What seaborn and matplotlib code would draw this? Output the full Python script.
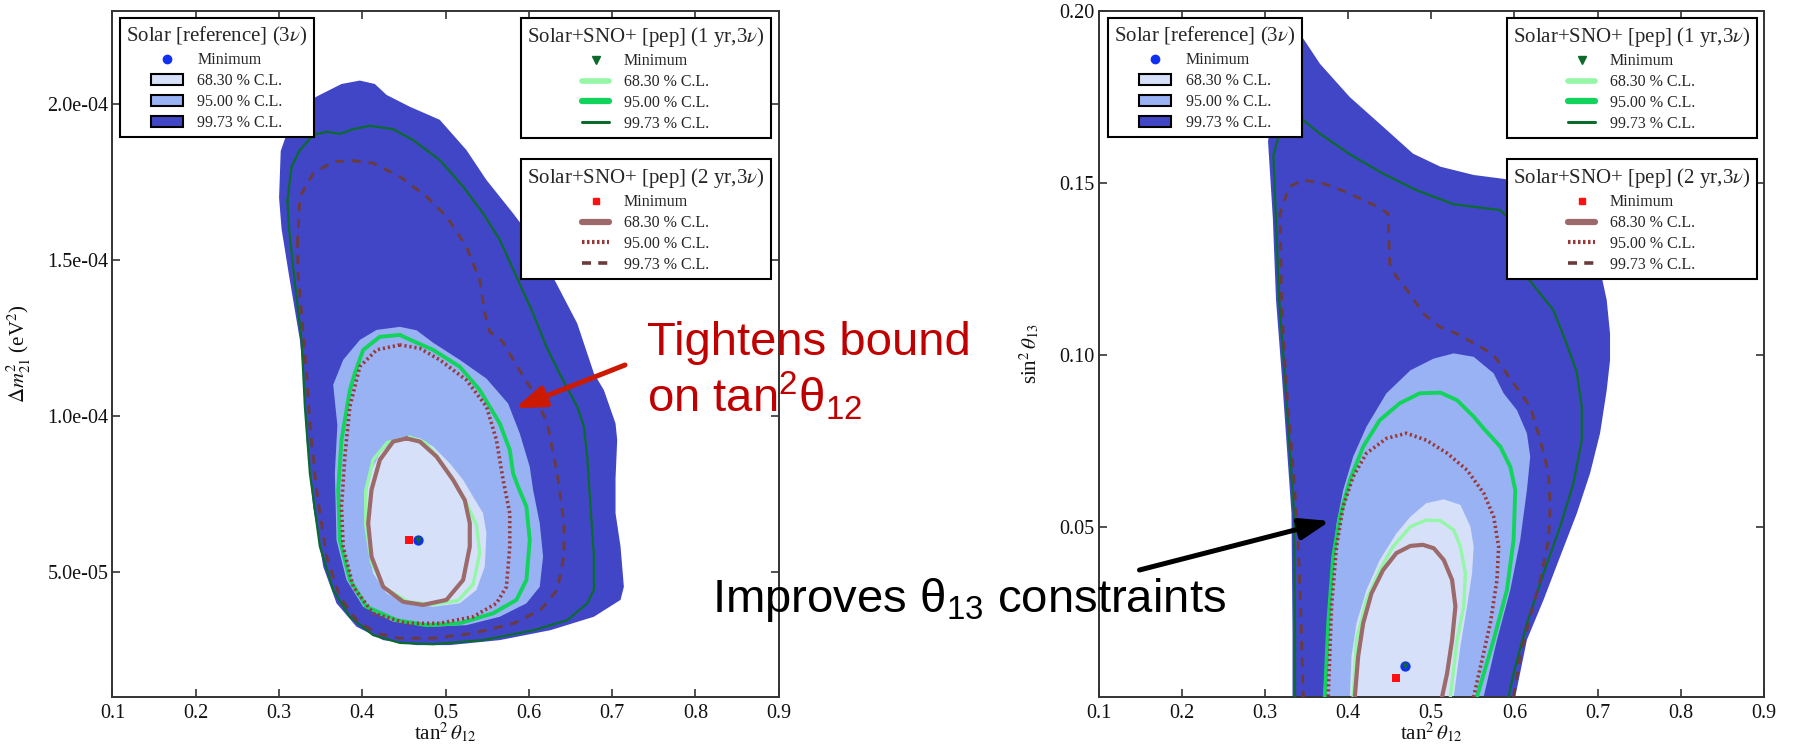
import numpy as np
import matplotlib
matplotlib.use("Agg")
import matplotlib.pyplot as plt
import seaborn as sns
from matplotlib.lines import Line2D
from matplotlib.patches import Patch

# ---------------- data ----------------
# Left panel: x = tan^2(theta12), y = Delta m^2_21 in units of 1e-4 eV^2
REF99_L_X = [0.300, 0.302, 0.315, 0.335, 0.349, 0.375, 0.397, 0.415, 0.429, 0.457, 0.493, 0.525, 0.549, 0.581,
             0.605, 0.633, 0.658, 0.678, 0.690, 0.704, 0.706, 0.704, 0.704, 0.710, 0.714, 0.710, 0.678, 0.626,
             0.565, 0.505, 0.465, 0.425, 0.393, 0.369, 0.353, 0.341, 0.333, 0.329, 0.325, 0.312, 0.303]
REF99_L_Y = [1.70, 1.85, 1.95, 2.01, 2.03, 2.065, 2.076, 2.065, 2.03, 1.992, 1.95, 1.853, 1.757, 1.65,
             1.565, 1.425, 1.297, 1.137, 1.083, 0.976, 0.923, 0.80, 0.688, 0.581, 0.452, 0.410, 0.356, 0.313,
             0.281, 0.265, 0.265, 0.281, 0.324, 0.399, 0.517, 0.709, 0.923, 1.137, 1.244, 1.45, 1.60]
REF95_L_X = [0.365, 0.377, 0.397, 0.417, 0.445, 0.465, 0.485, 0.517, 0.549, 0.575, 0.589, 0.601, 0.605, 0.613,
             0.617, 0.613, 0.597, 0.565, 0.525, 0.485, 0.437, 0.401, 0.381, 0.369, 0.367, 0.370]
REF95_L_Y = [1.10, 1.18, 1.244, 1.276, 1.286, 1.275, 1.235, 1.18, 1.12, 1.04, 0.944, 0.837, 0.763, 0.656,
             0.549, 0.452, 0.399, 0.356, 0.329, 0.324, 0.340, 0.388, 0.474, 0.602, 0.816, 0.97]
REF68_L_X = [0.457, 0.437, 0.421, 0.409, 0.403, 0.405, 0.413, 0.429, 0.453, 0.485, 0.517, 0.537, 0.547, 0.549,
             0.545, 0.533, 0.521, 0.505, 0.485, 0.469]
REF68_L_Y = [0.934, 0.923, 0.880, 0.816, 0.709, 0.602, 0.495, 0.431, 0.399, 0.388, 0.399, 0.442, 0.517, 0.624,
             0.688, 0.741, 0.795, 0.848, 0.902, 0.929]
Y1_99_L_X = [0.310, 0.315, 0.325, 0.341, 0.357, 0.373, 0.389, 0.409, 0.437, 0.461, 0.493, 0.521, 0.545, 0.565,
             0.585, 0.605, 0.621, 0.638, 0.658, 0.666, 0.670, 0.674, 0.678, 0.678, 0.670, 0.646, 0.606, 0.545,
             0.485, 0.445, 0.413, 0.385, 0.365, 0.349, 0.337, 0.331, 0.327, 0.318, 0.312]
Y1_99_L_Y = [1.69, 1.80, 1.853, 1.901, 1.912, 1.905, 1.920, 1.931, 1.920, 1.885, 1.821, 1.736, 1.650, 1.565,
             1.447, 1.329, 1.222, 1.13, 1.030, 0.966, 0.870, 0.709, 0.549, 0.442, 0.399, 0.345, 0.313, 0.281,
             0.268, 0.272, 0.297, 0.356, 0.442, 0.581, 0.816, 1.030, 1.244, 1.45, 1.60]
Y1_95_L_X = [0.445, 0.421, 0.401, 0.391, 0.385, 0.375, 0.371, 0.373, 0.385, 0.405, 0.441, 0.477, 0.517, 0.557,
             0.585, 0.597, 0.601, 0.597, 0.587, 0.581, 0.577, 0.565, 0.541, 0.517, 0.485, 0.457]
Y1_95_L_Y = [1.260, 1.254, 1.212, 1.137, 1.083, 0.923, 0.763, 0.602, 0.474, 0.388, 0.345, 0.329, 0.335, 0.367,
             0.410, 0.474, 0.602, 0.709, 0.773, 0.816, 0.891, 0.976, 1.083, 1.158, 1.212, 1.245]
Y1_68_L_X = [0.457, 0.430, 0.413, 0.404, 0.404, 0.411, 0.426, 0.455, 0.485, 0.515, 0.533, 0.541, 0.537, 0.525,
             0.510, 0.490, 0.475]
Y1_68_L_Y = [0.932, 0.915, 0.860, 0.760, 0.650, 0.530, 0.450, 0.404, 0.395, 0.408, 0.460, 0.560, 0.650, 0.720,
             0.790, 0.870, 0.915]
Y2_99_L_X = [0.322, 0.325, 0.341, 0.365, 0.389, 0.413, 0.445, 0.477, 0.501, 0.525, 0.541, 0.547, 0.553, 0.568,
             0.586, 0.606, 0.622, 0.634, 0.642, 0.642, 0.634, 0.614, 0.582, 0.533, 0.485, 0.445, 0.417, 0.393,
             0.373, 0.357, 0.345, 0.337, 0.333, 0.328, 0.323]
Y2_99_L_Y = [1.55, 1.704, 1.778, 1.816, 1.819, 1.811, 1.768, 1.704, 1.640, 1.543, 1.436, 1.33, 1.27, 1.24,
             1.158, 1.073, 0.976, 0.816, 0.656, 0.549, 0.442, 0.378, 0.335, 0.303, 0.287, 0.287, 0.303, 0.345,
             0.420, 0.549, 0.763, 0.976, 1.137, 1.30, 1.45]
Y2_95_L_X = [0.445, 0.417, 0.397, 0.385, 0.379, 0.375, 0.377, 0.389, 0.413, 0.453, 0.493, 0.533, 0.561, 0.573,
             0.577, 0.577, 0.569, 0.561, 0.549, 0.525, 0.493, 0.469]
Y2_95_L_Y = [1.228, 1.212, 1.158, 1.030, 0.870, 0.709, 0.581, 0.452, 0.367, 0.335, 0.335, 0.356, 0.399, 0.452,
             0.581, 0.688, 0.795, 0.923, 1.030, 1.115, 1.180, 1.217]
Y2_68_L_X = [0.453, 0.437, 0.421, 0.411, 0.407, 0.411, 0.425, 0.449, 0.473, 0.501, 0.521, 0.529, 0.529, 0.523,
             0.509, 0.489, 0.469]
Y2_68_L_Y = [0.928, 0.918, 0.859, 0.763, 0.656, 0.549, 0.452, 0.404, 0.394, 0.410, 0.474, 0.581, 0.656, 0.730,
             0.795, 0.870, 0.918]
MIN_L_X = [0.467, 0.467, 0.456]     # reference, 1 yr, 2 yr
MIN_L_Y = [0.602, 0.602, 0.602]

# Right panel: x = tan^2(theta12), y = sin^2(theta13)   (open contours run below the axis)
REF99_R_X = [0.3036, 0.315, 0.330, 0.346, 0.366, 0.402, 0.442, 0.478, 0.511, 0.551, 0.583, 0.620, 0.660, 0.690,
             0.702, 0.705, 0.711, 0.715, 0.715, 0.711, 0.703, 0.691, 0.675, 0.655, 0.635, 0.615, 0.601, 0.597,
             0.333, 0.333, 0.3318, 0.3205, 0.3132, 0.3093]
REF99_R_Y = [0.162, 0.185, 0.195, 0.1919, 0.1846, 0.1749, 0.1663, 0.1585, 0.1547, 0.1523, 0.1513, 0.150, 0.146,
             0.138, 0.130, 0.1227, 0.1160, 0.1063, 0.0985, 0.0898, 0.0773, 0.0657, 0.0540, 0.0415, 0.0289,
             0.0173, 0.0008, -0.005, -0.005, 0.020, 0.054, 0.093, 0.116, 0.140]
REF95_R_X = [0.369, 0.370, 0.374, 0.380, 0.386, 0.394, 0.406, 0.422, 0.446, 0.475, 0.503, 0.527, 0.551, 0.575,
             0.587, 0.603, 0.615, 0.619, 0.615, 0.607, 0.595, 0.579, 0.563, 0.562]
REF95_R_Y = [-0.005, 0.0008, 0.0173, 0.0366, 0.0511, 0.0608, 0.0705, 0.0792, 0.0889, 0.0956, 0.0990, 0.1005,
             0.0995, 0.0947, 0.0889, 0.0840, 0.0773, 0.0705, 0.0608, 0.0463, 0.0318, 0.0173, 0.0008, -0.005]
REF68_R_X = [0.401, 0.402, 0.404, 0.410, 0.422, 0.438, 0.458, 0.475, 0.494, 0.515, 0.535, 0.547, 0.551, 0.549,
             0.543, 0.535, 0.527, 0.526]
REF68_R_Y = [-0.005, 0.0008, 0.0125, 0.0221, 0.0318, 0.0405, 0.0482, 0.0531, 0.0570, 0.0581, 0.0565, 0.0502,
             0.0444, 0.0366, 0.0270, 0.0154, 0.0008, -0.005]
Y1_99_R_X = [0.336, 0.336, 0.335, 0.324, 0.317, 0.313, 0.310, 0.318, 0.330, 0.342, 0.366, 0.402, 0.442, 0.482,
             0.527, 0.583, 0.600, 0.610, 0.615, 0.647, 0.661, 0.675, 0.681, 0.681, 0.671, 0.655, 0.635, 0.615,
             0.599, 0.593, 0.591]
Y1_99_R_Y = [-0.005, 0.020, 0.054, 0.093, 0.116, 0.140, 0.158, 0.165, 0.170, 0.1690, 0.1643, 0.1583, 0.1527,
             0.1479, 0.1438, 0.1421, 0.138, 0.128, 0.1227, 0.1130, 0.1044, 0.0950, 0.085, 0.0753, 0.0628, 0.0502,
             0.0366, 0.0221, 0.0076, 0.0008, -0.005]
Y1_95_R_X = [0.371, 0.372, 0.376, 0.382, 0.390, 0.402, 0.418, 0.438, 0.462, 0.486, 0.511, 0.531, 0.551, 0.563,
             0.583, 0.595, 0.601, 0.599, 0.591, 0.575, 0.555, 0.553]
Y1_95_R_Y = [-0.005, 0.0008, 0.0221, 0.0415, 0.0531, 0.0637, 0.0734, 0.0811, 0.0860, 0.0889, 0.0891, 0.0869,
             0.0821, 0.0787, 0.0734, 0.0676, 0.0608, 0.0463, 0.0318, 0.0173, 0.0008, -0.005]
Y1_68_R_X = [0.405, 0.406, 0.410, 0.422, 0.438, 0.454, 0.475, 0.494, 0.511, 0.527, 0.535, 0.541, 0.539, 0.531,
             0.523, 0.522]
Y1_68_R_Y = [-0.005, 0.0008, 0.0173, 0.0289, 0.0376, 0.0444, 0.0502, 0.0521, 0.0519, 0.0492, 0.0444, 0.0366,
             0.0270, 0.0173, 0.0008, -0.005]
Y2_99_R_X = [0.346, 0.346, 0.343, 0.340, 0.335, 0.325, 0.320, 0.318, 0.329, 0.346, 0.368, 0.397, 0.436, 0.448,
             0.450, 0.458, 0.474, 0.490, 0.510, 0.530, 0.559, 0.575, 0.599, 0.619, 0.631, 0.641, 0.643, 0.641,
             0.631, 0.619, 0.607, 0.599, 0.597]
Y2_99_R_Y = [-0.005, 0.0009, 0.025, 0.0444, 0.0637, 0.0928, 0.115, 0.1411, 0.1489, 0.1508, 0.1500, 0.1474, 0.1430,
             0.1411, 0.1266, 0.1227, 0.1179, 0.1121, 0.1082, 0.1063, 0.1024, 0.1000, 0.0918, 0.0850, 0.0753,
             0.0657, 0.0560, 0.0463, 0.0347, 0.0241, 0.0125, 0.0008, -0.005]
Y2_95_R_X = [0.375, 0.376, 0.380, 0.386, 0.394, 0.406, 0.422, 0.446, 0.470, 0.494, 0.519, 0.543, 0.563, 0.575,
             0.581, 0.579, 0.571, 0.561, 0.551, 0.549]
Y2_95_R_Y = [-0.005, 0.0008, 0.0270, 0.0444, 0.0560, 0.0647, 0.0715, 0.0758, 0.0773, 0.0753, 0.0715, 0.0666,
             0.0599, 0.0531, 0.0444, 0.0347, 0.0221, 0.0115, 0.0008, -0.005]
Y2_68_R_X = [0.407, 0.408, 0.412, 0.418, 0.428, 0.442, 0.458, 0.475, 0.490, 0.503, 0.515, 0.525, 0.529, 0.525,
             0.519, 0.513, 0.512]
Y2_68_R_Y = [-0.005, 0.0008, 0.0125, 0.0221, 0.0308, 0.0376, 0.0425, 0.0446, 0.0449, 0.0439, 0.0405, 0.0347,
             0.0270, 0.0173, 0.0076, 0.0008, -0.005]
MIN_R_X = [0.468, 0.468, 0.458]
MIN_R_Y = [0.0098, 0.0098, 0.0062]

# ticks / labels / texts
XTICKS = [0.1, 0.2, 0.3, 0.4, 0.5, 0.6, 0.7, 0.8, 0.9]
XTICKLABELS = ["0.1", "0.2", "0.3", "0.4", "0.5", "0.6", "0.7", "0.8", "0.9"]
YTICKS_L = [0.5e-4, 1.0e-4, 1.5e-4, 2.0e-4]
YTICKLABELS_L = ["5.0e-05", "1.0e-04", "1.5e-04", "2.0e-04"]
YTICKS_R = [0.05, 0.10, 0.15, 0.20]
YTICKLABELS_R = ["0.05", "0.10", "0.15", "0.20"]
DM_UNIT = 1e-4
LEG_TITLES = ["Solar [reference] (3$\\nu$)", "Solar+SNO+ [pep] (1 yr,3$\\nu$)", "Solar+SNO+ [pep] (2 yr,3$\\nu$)"]
LEG_LABELS = ["Minimum", "68.30 % C.L.", "95.00 % C.L.", "99.73 % C.L."]

# ---------------- styles ----------------
DARK, MED, LIGHT = "#4146C6", "#98B2F3", "#D6E1F9"
LGREEN, GREEN, DGREEN = "#93F7A6", "#12D45A", "#0B6B2C"
BROWN, DOTC, DASHC = "#9C6A6A", "#9A3838", "#6B3B3B"
MIN_COLORS = ["#1030F0", "#0B6B2C", "#FF1010"]

sns.set_theme(style="ticks")
plt.rcParams["font.family"] = ["Liberation Serif", "DejaVu Serif"]
plt.rcParams["mathtext.fontset"] = "stix"
plt.rcParams["mathtext.rm"] = "Liberation Sans"
plt.rcParams["mathtext.it"] = "Liberation Sans"
plt.rcParams["mathtext.bf"] = "Liberation Sans:bold"
plt.rcParams["mathtext.sf"] = "Liberation Sans"
plt.rcParams["axes.edgecolor"] = "#333333"
plt.rcParams["axes.linewidth"] = 1.4

fig = plt.figure(figsize=(17.93, 7.47), dpi=100)
axL = fig.add_axes([0.06274, 0.06734, 0.3716, 0.9183])
axR = fig.add_axes([0.61283, 0.06734, 0.37089, 0.9183])


def close(xs, ys):
    return np.r_[xs, xs[0]], np.r_[ys, ys[0]]


def draw_panel(ax, s, fills, lines, closed, mins_x, mins_y):
    for xs, ys, c in fills:
        ax.fill(np.asarray(xs), np.asarray(ys) * s, color=c, lw=0, zorder=1)
    for xs, ys, c, lw, ls, z in lines:
        x = np.asarray(xs, float)
        y = np.asarray(ys, float) * s
        if closed:
            x, y = close(x, y)
        sns.lineplot(x=x, y=y, sort=False, estimator=None, ax=ax, color=c, linewidth=lw,
                     linestyle=ls, legend=False, zorder=z)
    mx = np.asarray(mins_x)
    my = np.asarray(mins_y) * s
    sns.scatterplot(x=mx[:1], y=my[:1], ax=ax, marker="o", s=55, color=MIN_COLORS[0], linewidth=0,
                    zorder=6, legend=False)
    sns.scatterplot(x=mx[1:2], y=my[1:2], ax=ax, marker="v", s=22, color=MIN_COLORS[1], linewidth=0,
                    zorder=7, legend=False)
    sns.scatterplot(x=mx[2:], y=my[2:], ax=ax, marker="s", s=30, color=MIN_COLORS[2], linewidth=0,
                    zorder=7, legend=False)


DOTTED = (0, (0.6, 0.8))
DASHED = (0, (3.2, 2.8))

draw_panel(axL, DM_UNIT,
           [(REF99_L_X, REF99_L_Y, DARK), (REF95_L_X, REF95_L_Y, MED), (REF68_L_X, REF68_L_Y, LIGHT)],
           [(Y1_99_L_X, Y1_99_L_Y, DGREEN, 1.6, "-", 3),
            (Y1_95_L_X, Y1_95_L_Y, GREEN, 2.8, "-", 3),
            (Y1_68_L_X, Y1_68_L_Y, LGREEN, 2.4, "-", 3),
            (Y2_99_L_X, Y2_99_L_Y, DASHC, 2.0, DASHED, 4),
            (Y2_95_L_X, Y2_95_L_Y, DOTC, 2.6, DOTTED, 4),
            (Y2_68_L_X, Y2_68_L_Y, BROWN, 3.0, "-", 4)],
           True, MIN_L_X, MIN_L_Y)

draw_panel(axR, 1.0,
           [(REF99_R_X, REF99_R_Y, DARK), (REF95_R_X, REF95_R_Y, MED), (REF68_R_X, REF68_R_Y, LIGHT)],
           [(Y1_99_R_X, Y1_99_R_Y, DGREEN, 1.6, "-", 3),
            (Y1_95_R_X, Y1_95_R_Y, GREEN, 2.8, "-", 3),
            (Y1_68_R_X, Y1_68_R_Y, LGREEN, 2.4, "-", 3),
            (Y2_99_R_X, Y2_99_R_Y, DASHC, 2.0, DASHED, 4),
            (Y2_95_R_X, Y2_95_R_Y, DOTC, 2.6, DOTTED, 4),
            (Y2_68_R_X, Y2_68_R_Y, BROWN, 3.0, "-", 4)],
           False, MIN_R_X, MIN_R_Y)

# axes formatting
for ax in (axL, axR):
    ax.set_xlim(0.1, 0.9)
    ax.set_xticks(XTICKS)
    ax.set_xticklabels(XTICKLABELS)
    ax.tick_params(direction="in", top=True, right=True, length=6, width=1.2, color="#333333",
                   labelsize=14.5, labelcolor="#111111")
    ax.tick_params(axis="x", pad=5)
    ax.tick_params(axis="y", pad=3)
    ax.grid(False)
    ax.set_xlabel(r"tan$^2\,\theta_{12}$", fontsize=15, color="#111111")
    ax.xaxis.set_label_coords(0.5, -0.036)

axL.set_ylim(0.0995e-4, 2.30e-4)
axL.set_yticks(YTICKS_L)
axL.set_yticklabels(YTICKLABELS_L)
axL.set_ylabel(r"$\Delta m^2_{21}$ (eV$^2$)", fontsize=15, color="#111111")
axL.yaxis.set_label_coords(-0.119, 0.5)

axR.set_ylim(0.0008, 0.20)
axR.set_yticks(YTICKS_R)
axR.set_yticklabels(YTICKLABELS_R)
axR.set_ylabel(r"sin$^2\,\theta_{13}$", fontsize=15, color="#111111")
axR.yaxis.set_label_coords(-0.0854, 0.5)

# legends
LEG_KW = dict(frameon=True, fancybox=False, framealpha=1.0, edgecolor="black", fontsize=11.5,
              title_fontsize=15, borderpad=0.4, labelspacing=0.3, handletextpad=0.9, borderaxespad=0.0)


def add_legends(ax, a1, a2, a3):
    h1 = [Line2D([], [], marker="o", ls="None", color=MIN_COLORS[0], ms=6),
          Patch(fc=LIGHT, ec="black", lw=1.5), Patch(fc=MED, ec="black", lw=1.5),
          Patch(fc=DARK, ec="black", lw=1.5)]
    h2 = [Line2D([], [], marker="v", ls="None", color=MIN_COLORS[1], ms=6),
          Line2D([], [], color=LGREEN, lw=4), Line2D([], [], color=GREEN, lw=4.5),
          Line2D([], [], color=DGREEN, lw=2.2)]
    h3 = [Line2D([], [], marker="s", ls="None", color=MIN_COLORS[2], ms=5),
          Line2D([], [], color=BROWN, lw=4.5), Line2D([], [], color=DOTC, lw=3, ls=(0, (0.6, 0.6))),
          Line2D([], [], color=DASHC, lw=2.6, ls=(0, (2.5, 2.0)))]
    l1 = ax.legend(h1, LEG_LABELS, title=LEG_TITLES[0], loc="upper left", bbox_to_anchor=a1,
                   handlelength=2.0, **LEG_KW)
    l1.get_frame().set_linewidth(1.5)
    ax.add_artist(l1)
    l2 = ax.legend(h2, LEG_LABELS, title=LEG_TITLES[1], loc="upper right", bbox_to_anchor=a2,
                   handlelength=1.7, **LEG_KW)
    l2.get_frame().set_linewidth(1.5)
    ax.add_artist(l2)
    l3 = ax.legend(h3, LEG_LABELS, title=LEG_TITLES[2], loc="upper right", bbox_to_anchor=a3,
                   handlelength=1.7, **LEG_KW)
    l3.get_frame().set_linewidth(1.5)
    for lg in (l1, l2, l3):
        lg.set_zorder(10)


add_legends(axL, (0.0107, 0.989), (0.9878, 0.989), (0.9878, 0.7834))
add_legends(axR, (0.0138, 0.989), (0.9893, 0.989), (0.9893, 0.7834))

# annotations
RED_TXT = "#C00000"
fig.text(0.3607, 0.5248, "Tightens bound", fontsize=34, color=RED_TXT, family="Liberation Sans",
         va="baseline", ha="left", math_fontfamily="custom")
fig.text(0.3607, 0.4489, "on tan$^{2}$θ$_{12}$", fontsize=34, color=RED_TXT, family="Liberation Sans",
         va="baseline", ha="left", math_fontfamily="custom")
fig.text(0.397, 0.1811, "Improves θ$_{13}$ constraints", fontsize=34, color="black",
         family="Liberation Sans", va="baseline", ha="left", math_fontfamily="custom")

axL.annotate("", xy=(515, 338.7), xycoords="figure pixels", xytext=(625, 382), textcoords="figure pixels",
             arrowprops=dict(arrowstyle="-|>,head_length=0.9,head_width=0.32", color="#CC1A00", lw=3.6,
                             mutation_scale=20, shrinkA=0, shrinkB=0), annotation_clip=False, zorder=20)
axR.annotate("", xy=(1330, 226), xycoords="figure pixels", xytext=(1139.5, 177), textcoords="figure pixels",
             arrowprops=dict(arrowstyle="-|>,head_length=0.9,head_width=0.32", color="black", lw=3.6,
                             mutation_scale=20, shrinkA=0, shrinkB=0), annotation_clip=False, zorder=20)

fig.savefig("out.png", dpi=100, facecolor="white")
